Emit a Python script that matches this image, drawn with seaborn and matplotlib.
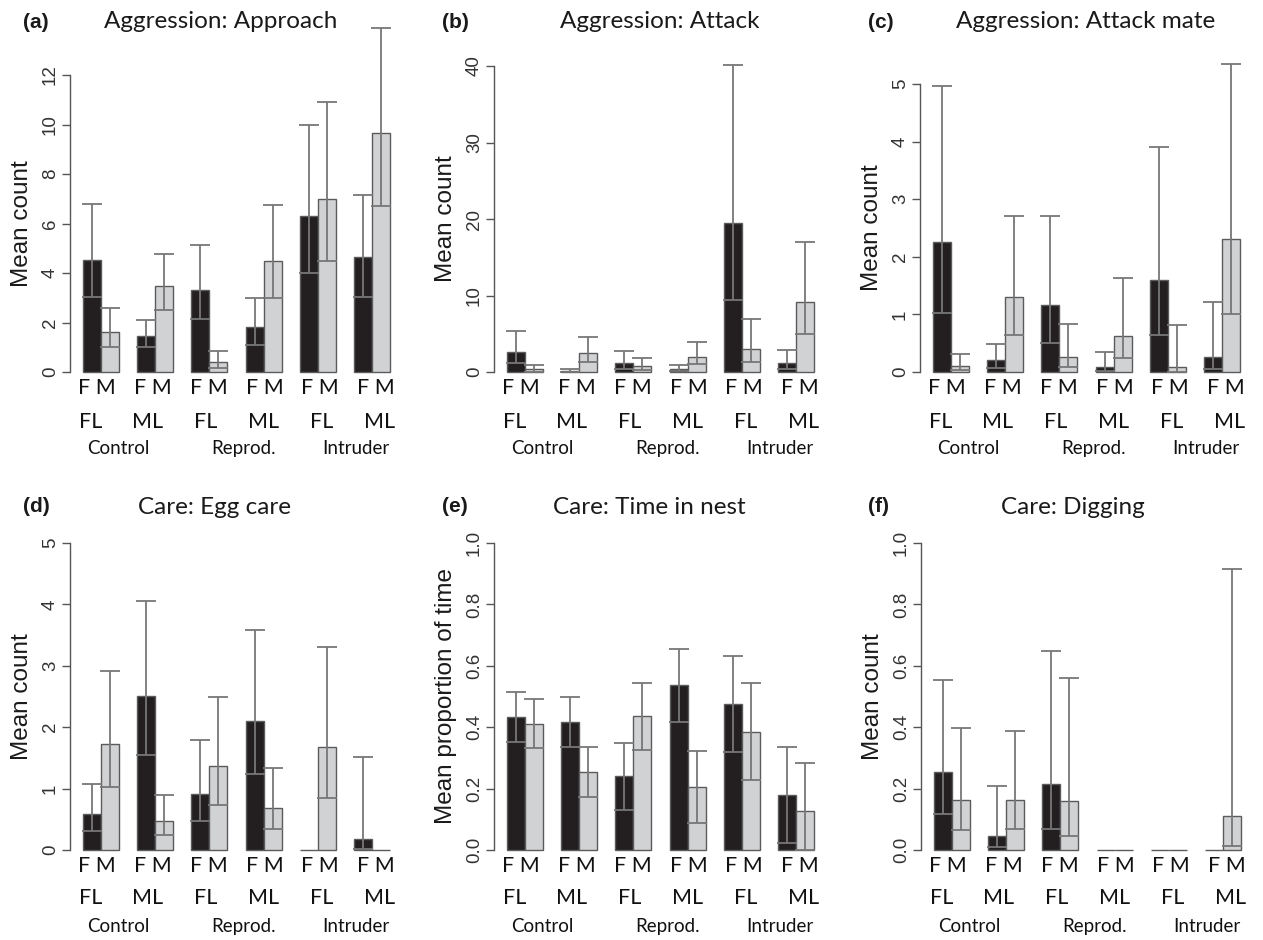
import numpy as np
import pandas as pd
import seaborn as sns
from matplotlib import pyplot as plt

nan = np.nan

# ------------------------------------------------------------------
# Data : bars go F, M for each lineage pair, pairs in the order below
# ------------------------------------------------------------------
treatments = ["Control", "Control", "Reprod.", "Reprod.", "Intruder", "Intruder"]
lineages = ["FL", "ML", "FL", "ML", "FL", "ML"]
sexes = ["F", "M"]
group_names = ["Control", "Reprod.", "Intruder"]

approach_mean = [4.54, 1.62, 1.44, 3.46, 3.33, 0.40, 1.82, 4.47, 6.29, 6.97, 4.65, 9.66]
approach_low = [3.03, 1.01, 1.00, 2.49, 2.14, 0.18, 1.10, 3.00, 3.98, 4.47, 3.03, 6.70]
approach_high = [6.78, 2.60, 2.09, 4.76, 5.13, 0.86, 3.00, 6.74, 9.97, 10.89, 7.14, 13.88]

attack_mean = [2.60, 0.35, 0.10, 2.50, 1.20, 0.83, 0.42, 2.00, 19.50, 3.00, 1.20, 9.15]
attack_low = [1.22, 0.05, 0.00, 1.35, 0.45, 0.30, 0.10, 1.00, 9.45, 1.26, 0.45, 4.97]
attack_high = [5.40, 0.87, 0.35, 4.58, 2.70, 1.87, 0.96, 3.92, 40.10, 6.97, 2.83, 16.99]

mate_mean = [2.26, 0.11, 0.20, 1.31, 1.17, 0.26, 0.08, 0.63, 1.60, 0.09, 0.26, 2.31]
mate_low = [1.03, 0.04, 0.075, 0.64, 0.50, 0.08, 0.02, 0.24, 0.65, 0.00, 0.05, 1.00]
mate_high = [4.96, 0.32, 0.49, 2.70, 2.71, 0.835, 0.34, 1.63, 3.90, 0.81, 1.22, 5.34]

egg_mean = [0.58, 1.73, 2.51, 0.47, 0.92, 1.36, 2.10, 0.68, 0.00, 1.67, 0.18, 0.00]
egg_low = [0.31, 1.03, 1.55, 0.25, 0.48, 0.74, 1.24, 0.35, nan, 0.84, 0.02, nan]
egg_high = [1.08, 2.91, 4.06, 0.89, 1.79, 2.50, 3.58, 1.34, nan, 3.31, 1.51, nan]

nest_mean = [0.433, 0.411, 0.418, 0.254, 0.240, 0.435, 0.536, 0.206, 0.476, 0.385, 0.179, 0.126]
nest_low = [0.351, 0.331, 0.337, 0.172, 0.130, 0.325, 0.418, 0.089, 0.318, 0.229, 0.022, 0.000]
nest_high = [0.514, 0.492, 0.499, 0.334, 0.349, 0.545, 0.654, 0.322, 0.632, 0.543, 0.335, 0.282]

dig_mean = [0.255, 0.163, 0.047, 0.164, 0.214, 0.161, 0.0, 0.0, 0.0, 0.0, 0.0, 0.112]
dig_low = [0.118, 0.066, 0.010, 0.070, 0.070, 0.046, nan, nan, nan, nan, nan, 0.013]
dig_high = [0.553, 0.398, 0.208, 0.387, 0.647, 0.561, nan, nan, nan, nan, nan, 0.914]

count_ticks_a = [0, 2, 4, 6, 8, 10, 12]
count_ticks_b = [0, 10, 20, 30, 40]
count_ticks_c = [0, 1, 2, 3, 4, 5]
prop_ticks = [0.0, 0.2, 0.4, 0.6, 0.8, 1.0]

# ------------------------------------------------------------------
# Layout / style
# ------------------------------------------------------------------
W, H = 1263, 940
DARK = "#231f20"
LIGHT = "#d1d2d4"
EDGE = "#5b5b5d"
ERR = "#777777"
AXIS = "#555555"
LABEL_FONT = ["Lato", "DejaVu Sans"]

# F M label, FL/ML label and treatment label x positions (category units)
fm_x = [i + 0.03 * (i - 2.5) for i in range(6)]
lin_x = [-0.2 + 1.067 * i for i in range(6)]
grp_x = [0.32, 2.62, 4.70]


def PxAxes(fig, left, zero_y, top_y, width=333):
    span = zero_y - top_y
    bottom = zero_y + 0.04 * span
    top = top_y - 0.04 * span
    return fig.add_axes([left / W, 1 - bottom / H, width / W, (bottom - top) / H])


def FigText(fig, x, y, s, **kw):
    fig.text(x / W, 1 - y / H, s, **kw)


def DrawPanel(ax, mean, low, high, ticks, ticklabels, ylabel, row_offsets):
    pair_names = [t + " " + l for t, l in zip(treatments, lineages)]
    df = pd.DataFrame({
        "pair": [p for p in pair_names for s in sexes],
        "sex": sexes * len(pair_names),
        "value": mean,
    })
    sns.barplot(data=df, x="pair", y="value", hue="sex", order=pair_names,
                hue_order=sexes, palette={"F": DARK, "M": LIGHT}, width=2 / 3,
                saturation=1, errorbar=None, edgecolor=EDGE, linewidth=1.0,
                legend=False, ax=ax)

    # error bars from the bar positions seaborn gave
    bar_containers = list(ax.containers)
    for k, container in enumerate(bar_containers):
        for i, bar in enumerate(container):
            j = 2 * i + k
            if np.isnan(low[j]):
                continue
            x = bar.get_x() + bar.get_width() / 2
            ax.errorbar(x, mean[j], yerr=[[mean[j] - low[j]], [high[j] - mean[j]]],
                        fmt="none", ecolor=ERR, elinewidth=1.3, capsize=7,
                        capthick=1.3, clip_on=False, zorder=3)

    ymax = ticks[-1]
    ax.set_ylim(-0.04 * ymax, 1.04 * ymax)
    ax.set_xlim(-1 / 3 - 0.24, 16 / 3 + 0.24)
    for side in ["top", "right", "bottom"]:
        ax.spines[side].set_visible(False)
    ax.spines["left"].set_bounds(0, ymax)
    ax.spines["left"].set_color(AXIS)
    ax.spines["left"].set_linewidth(1.0)
    ax.set_xticks([])
    ax.set_xlabel("")
    ax.set_yticks(ticks)
    ax.set_yticklabels(ticklabels)
    ax.tick_params(axis="y", labelrotation=90, length=6, width=1.0, pad=2,
                   color=AXIS, labelcolor="#333333", labelsize=13.5, left=True)
    for lab in ax.get_yticklabels():
        lab.set_va("center")
    ax.set_ylabel(ylabel, fontsize=17.5, color="#1a1a1a")
    ax.yaxis.label.set_va("center")
    bbox = ax.get_position()
    ax.yaxis.set_label_coords(-48 / (bbox.width * W), 0.5)

    d_fm, d_lin, d_grp = row_offsets
    for i in range(6):
        ax.annotate("F M", xy=(fm_x[i], 0), xytext=(0, -d_fm * 0.72),
                    textcoords="offset points", ha="center", va="center",
                    fontsize=15.5, family=LABEL_FONT, color="#111111",
                    annotation_clip=False)
        ax.annotate(lineages[i], xy=(lin_x[i], 0), xytext=(0, -d_lin * 0.72),
                    textcoords="offset points", ha="center", va="center",
                    fontsize=15.5, family=LABEL_FONT, color="#111111",
                    annotation_clip=False)
    for g in range(3):
        ax.annotate(group_names[g], xy=(grp_x[g], 0), xytext=(0, -d_grp * 0.72),
                    textcoords="offset points", ha="center", va="baseline",
                    fontsize=13.5, family=LABEL_FONT, color="#111111",
                    annotation_clip=False)


def main():
    sns.set_style("white")
    plt.rcParams["font.family"] = ["Liberation Sans", "DejaVu Sans"]

    fig = plt.figure(figsize=(W / 100, H / 100), dpi=100)

    panels = [
        # letter, title, ylabel, mean, low, high, ticks, labels, axes px, title px, letter px, row
        ("(a)", "Aggression: Approach", "Mean count", approach_mean, approach_low, approach_high,
         count_ticks_a, [str(t) for t in count_ticks_a], (70, 372, 75), (221, 22), (23, 22), 0),
        ("(b)", "Aggression: Attack", "Mean count", attack_mean, attack_low, attack_high,
         count_ticks_b, [str(t) for t in count_ticks_b], (494, 372, 66), (660, 22), (442, 22), 0),
        ("(c)", "Aggression: Attack mate", "Mean count", mate_mean, mate_low, mate_high,
         count_ticks_c, [str(t) for t in count_ticks_c], (920, 372, 84), (1086, 22), (868, 22), 0),
        ("(d)", "Care: Egg care", "Mean count", egg_mean, egg_low, egg_high,
         count_ticks_c, [str(t) for t in count_ticks_c], (70, 850, 543), (214, 507), (23, 507), 1),
        ("(e)", "Care: Time in nest", "Mean proportion of time", nest_mean, nest_low, nest_high,
         prop_ticks, ["%.1f" % t for t in prop_ticks], (494, 850, 543), (649, 507), (442, 507), 1),
        ("(f)", "Care: Digging", "Mean count", dig_mean, dig_low, dig_high,
         prop_ticks, ["%.1f" % t for t in prop_ticks], (921, 850, 543), (1073, 507), (868, 507), 1),
    ]

    # distance (px) below the zero line: F M centre, FL/ML centre, treatment baseline
    row_offsets = [(16, 50, 82), (16, 48, 82)]

    for (letter, title, ylabel, mean, low, high, ticks, labels,
         axpx, titlepx, letterpx, row) in panels:
        ax = PxAxes(fig, *axpx)
        DrawPanel(ax, mean, low, high, ticks, labels, ylabel, row_offsets[row])
        FigText(fig, titlepx[0], titlepx[1], title, ha="center", va="center",
                fontsize=17.5, family=LABEL_FONT, color="#1a1a1a")
        FigText(fig, letterpx[0], letterpx[1], letter, ha="left", va="center",
                fontsize=15, fontweight="bold", color="#1a1a1a")

    fig.savefig("out.png", dpi=100)


if __name__ == "__main__":
    main()
